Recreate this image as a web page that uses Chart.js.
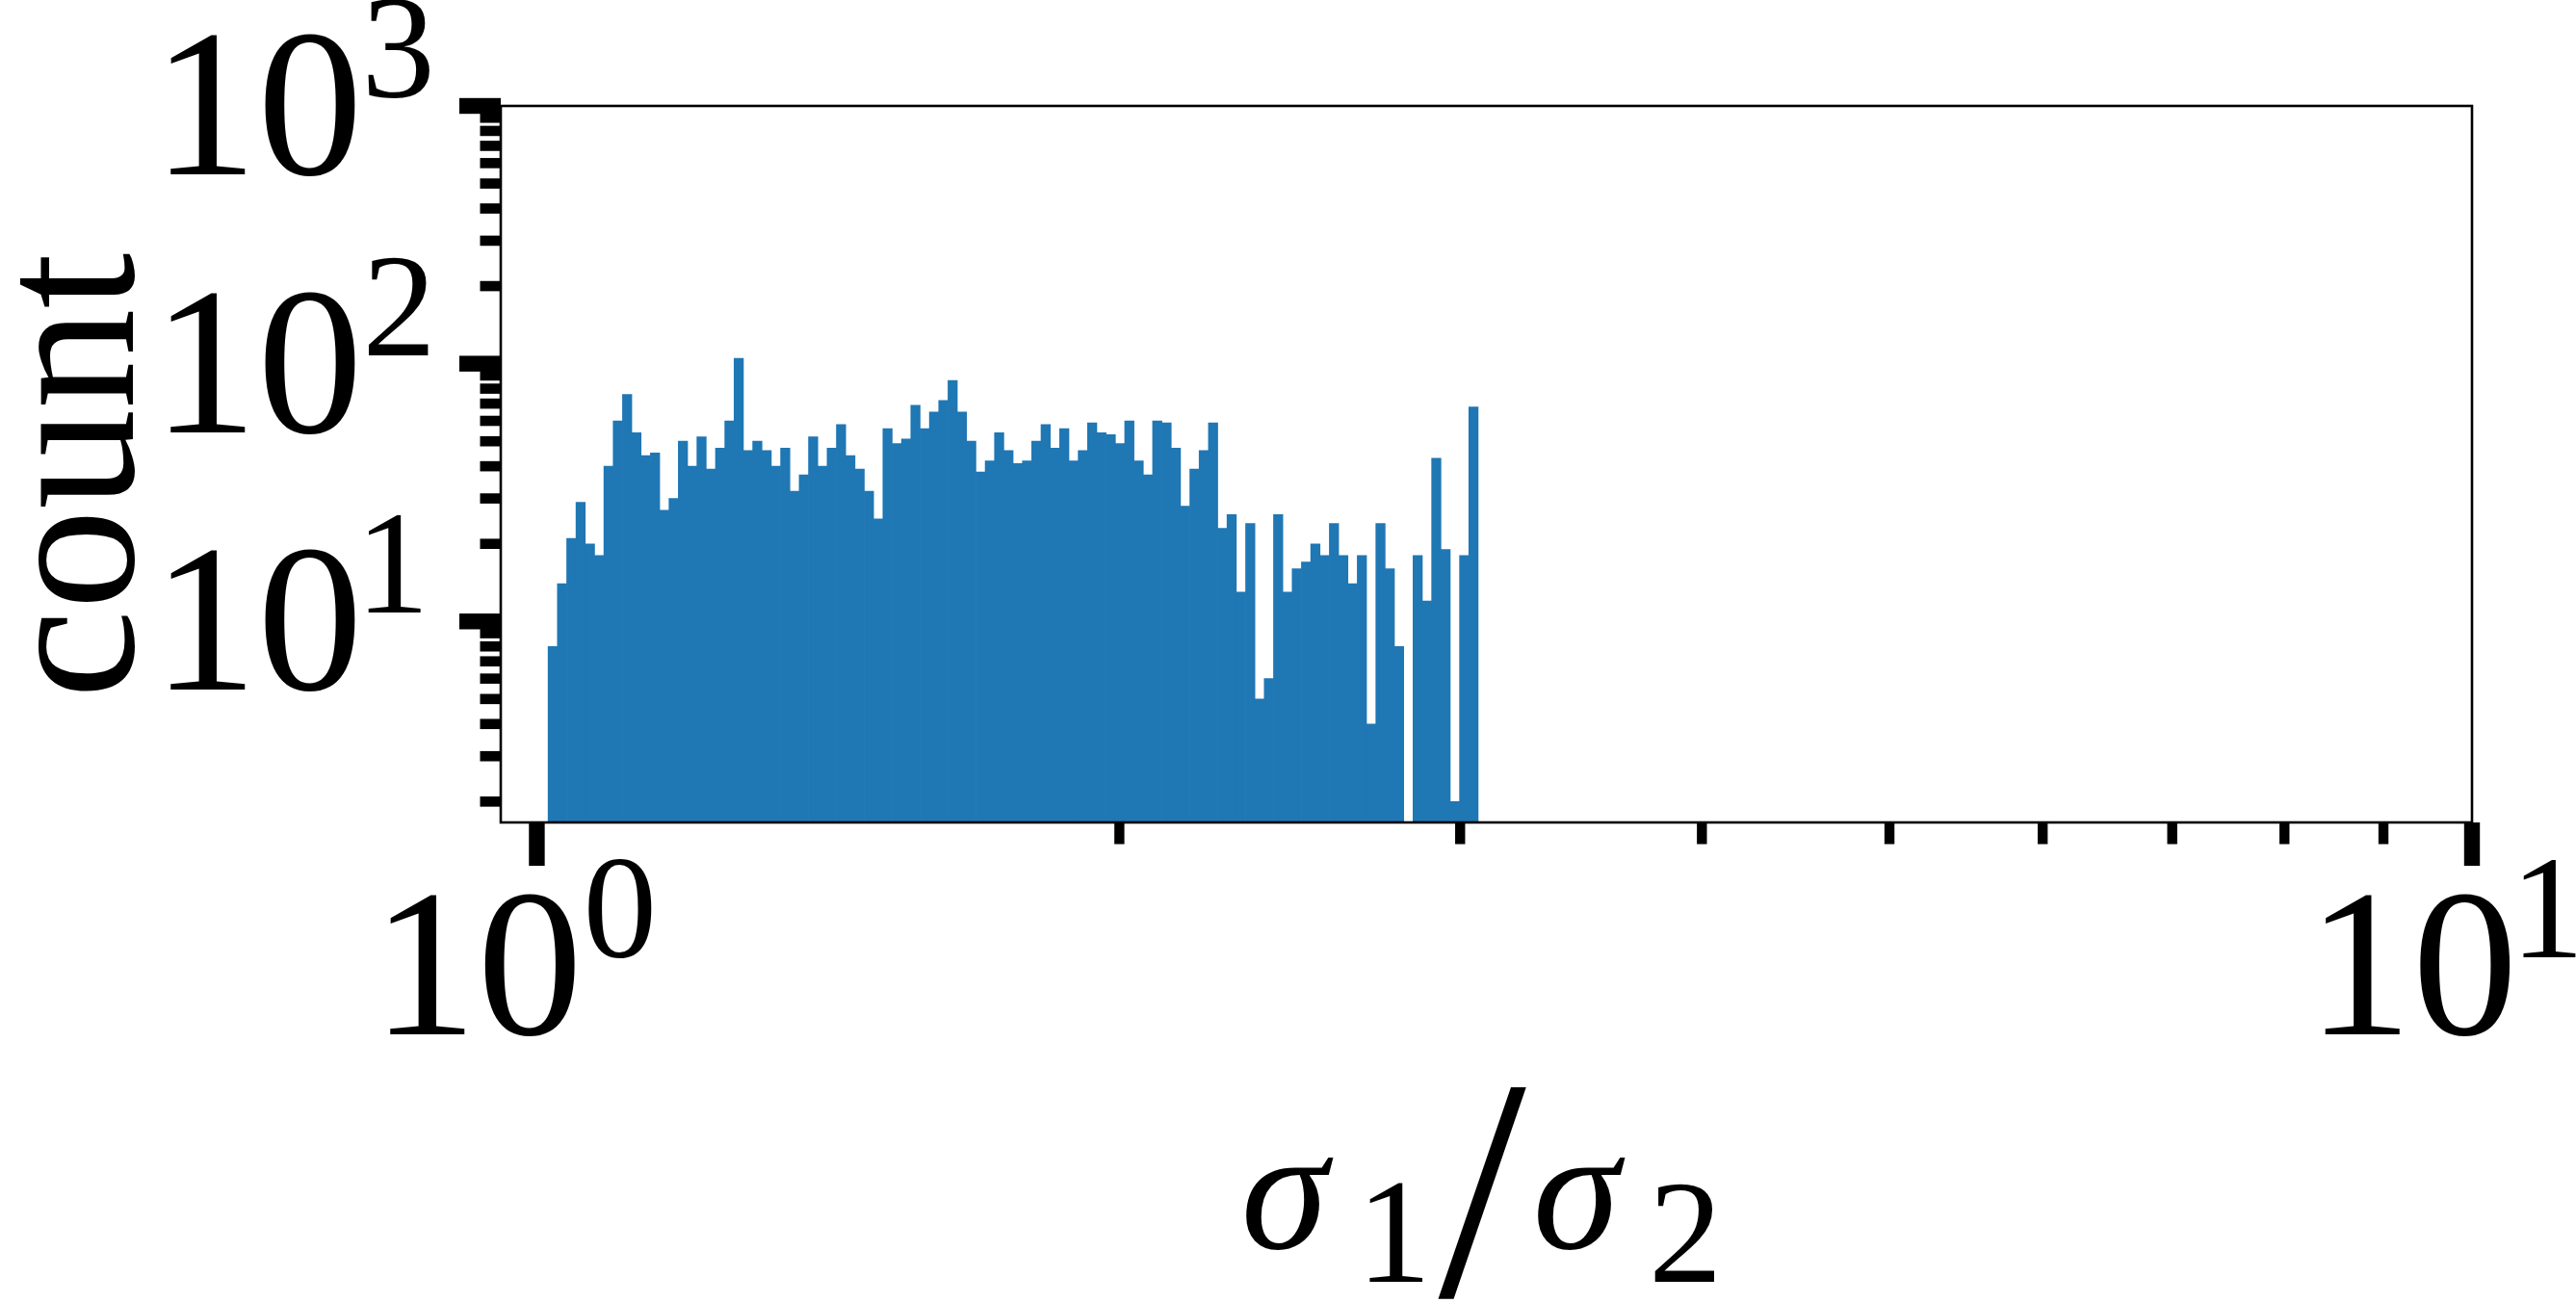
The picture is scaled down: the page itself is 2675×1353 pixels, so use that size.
<!DOCTYPE html>
<html>
<head>
<meta charset="utf-8">
<title>sigma1/sigma2 histogram</title>
<script src="https://cdn.jsdelivr.net/npm/chart.js@4.4.1/dist/chart.umd.min.js"></script>
<style>
    html, body { margin: 0; padding: 0; background: #ffffff; }
    canvas { display: block; }
</style>
</head>
<body>
<canvas id="histChart" width="2675" height="1353"></canvas>
<script>
// histogram: 100 log-spaced bins between binLo and binHi
const binLo = 1.0135;
const binHi = 3.065;
const counts = [
    8, 14, 21, 29, 20, 18, 40, 60, 76, 54,
    44, 45, 27, 30, 50, 40, 52, 39, 47, 60,
    105, 46, 50, 46, 40, 47, 32, 37, 52, 40,
    47, 58, 44, 39, 32, 25, 56, 49, 51, 69,
    56, 65, 72, 86, 65, 50, 38, 42, 54, 46,
    41, 42, 50, 58, 47, 56, 42, 46, 59, 54,
    53, 49, 60, 42, 37, 60, 59, 47, 28, 39,
    46, 59, 23, 26, 13, 24, 5, 6, 26, 13,
    16, 17, 20, 18, 24, 18, 14, 18, 4, 24,
    16, 8, 0, 18, 12, 43, 19, 2, 18, 68
];

// axis ranges and ticks
const xRange = [0.958, 10];
const yRange = [1.66, 1000];
const xMajor = [1, 10];
const xMajorLabels = ['0', '1'];   // exponents of 10
const xMinor = [2, 3, 4, 5, 6, 7, 8, 9];
const yMajor = [10, 100, 1000];
const yMajorLabels = ['1', '2', '3'];
const yMinor = [2, 3, 4, 5, 6, 7, 8, 9, 20, 30, 40, 50, 60, 70, 80, 90, 200, 300, 400, 500, 600, 700, 800, 900];

const yTitle = 'count';
const xTitle = [
    { text: 'σ', style: 'italic', dx: -249.8, dy: 444.3, h: 96.6 },
    { text: '1', style: 'normal', dx: -121.7, dy: 476.7, h: 102.4 },
    { text: '/', style: 'normal', dx: -50.0, dy: 496.7, h: 220 },
    { text: 'σ', style: 'italic', dx: 53.3, dy: 444.3, h: 96.6 },
    { text: '2', style: 'normal', dx: 174.5, dy: 476.7, h: 102.4 }
];

const barColor = '#1f77b4';

// first serif family that is really installed
function hasFont(name) {
    const c = document.createElement('canvas').getContext('2d');
    const probe = 'abcdefghij0123456789σ';
    c.font = '72px monospace';
    const w0 = c.measureText(probe).width;
    c.font = "72px '" + name + "', monospace";
    return c.measureText(probe).width !== w0;
}
const serifName = ['Liberation Serif', 'Times New Roman', 'Tinos', 'DejaVu Serif Condensed', 'DejaVu Serif']
    .find(hasFont) || 'serif';
const serif = "'" + serifName + "', serif";

const nBins = counts.length;
const edges = [];
for (let i = 0; i <= nBins; i++) {
    edges.push(binLo * Math.pow(binHi / binLo, i / nBins));
}
const points = counts.map((c, i) => ({
    x: Math.sqrt(edges[i] * edges[i + 1]),
    y: c > 0 ? c : null
}));

// font size that gives a text its wanted ink height
function fitSize(ctx, text, style, inkHeight) {
    ctx.font = style + ' 100px ' + serif;
    const m = ctx.measureText(text);
    return 100 * inkHeight / (m.actualBoundingBoxAscent + m.actualBoundingBoxDescent);
}

function drawInk(ctx, text, style, inkHeight, inkLeft, inkBottom) {
    const size = fitSize(ctx, text, style, inkHeight);
    ctx.font = style + ' ' + size.toFixed(1) + 'px ' + serif;
    const m = ctx.measureText(text);
    ctx.fillText(text, inkLeft + m.actualBoundingBoxLeft, inkBottom - m.actualBoundingBoxDescent);
}

// "10" with a raised exponent; "10" ink ends at rightX, exponent follows
function drawPow(ctx, exp, rightX, baseline, size) {
    ctx.textAlign = 'left';
    ctx.font = size.toFixed(1) + 'px ' + serif;
    const m = ctx.measureText('10');
    ctx.fillText('10', rightX - m.actualBoundingBoxRight, baseline);
    ctx.font = (size * 0.7).toFixed(1) + 'px ' + serif;
    const e = ctx.measureText(exp);
    ctx.fillText(exp, rightX + 13 + e.actualBoundingBoxLeft, baseline - 80);
}

const axesPlugin = {
    id: 'mplAxes',
    afterDraw(chart) {
        const { ctx, chartArea: a, scales: { x, y } } = chart;
        ctx.save();
        ctx.fillStyle = '#000';
        ctx.textBaseline = 'alphabetic';

        // ticks, outward
        xMinor.forEach(v => {
            const px = x.getPixelForValue(v);
            ctx.fillRect(px - 5.2, a.bottom, 10.4, 22.5);
        });
        xMajor.forEach(v => {
            const px = x.getPixelForValue(v);
            ctx.fillRect(px - 8.2, a.bottom, 16.4, 45);
        });
        yMinor.forEach(v => {
            const py = y.getPixelForValue(v);
            ctx.fillRect(a.left - 21.5, py - 5.3, 21.5, 10.6);
        });
        yMajor.forEach(v => {
            const py = y.getPixelForValue(v);
            ctx.fillRect(a.left - 43, py - 8.2, 43, 16.4);
        });

        // frame
        ctx.lineWidth = 2.6;
        ctx.strokeStyle = '#000';
        ctx.strokeRect(a.left, a.top, a.right - a.left, a.bottom - a.top);

        // tick labels
        const size = fitSize(ctx, '10', 'normal', 148.8);
        yMajor.forEach((v, i) => {
            const py = y.getPixelForValue(v);
            drawPow(ctx, yMajorLabels[i], a.left - 150.7, py + 71, size);
        });
        xMajor.forEach((v, i) => {
            const px = x.getPixelForValue(v);
            drawPow(ctx, xMajorLabels[i], px + 40, a.bottom + 220.3, size);
        });

        // y title, rotated
        const cSize = fitSize(ctx, 'co', 'normal', 100);
        ctx.font = cSize.toFixed(1) + 'px ' + serif;
        const m = ctx.measureText(yTitle);
        const mid = (m.actualBoundingBoxRight - m.actualBoundingBoxLeft) / 2;
        ctx.save();
        ctx.translate(a.left - 382.3, (a.top + a.bottom) / 2 + 9);
        ctx.rotate(-Math.PI / 2);
        ctx.fillText(yTitle, -mid, 0);
        ctx.restore();

        // x title
        const cx = (a.left + a.right) / 2;
        xTitle.forEach(p => {
            drawInk(ctx, p.text, p.style, p.h, cx + p.dx, a.bottom + p.dy);
        });

        ctx.restore();
    }
};

new Chart(document.getElementById('histChart'), {
    type: 'bar',
    data: {
        datasets: [{
            data: points,
            backgroundColor: barColor,
            borderWidth: 0,
            barPercentage: 1.0,
            categoryPercentage: 1.0
        }]
    },
    options: {
        responsive: false,
        devicePixelRatio: 1,
        animation: false,
        layout: {
            padding: { left: 520, top: 110, right: 2675 - 2567, bottom: 1353 - 854 }
        },
        scales: {
            x: { type: 'logarithmic', min: xRange[0], max: xRange[1], display: false },
            y: { type: 'logarithmic', min: yRange[0], max: yRange[1], display: false }
        },
        plugins: {
            legend: { display: false },
            tooltip: { enabled: false }
        }
    },
    plugins: [axesPlugin]
});
</script>
</body>
</html>
